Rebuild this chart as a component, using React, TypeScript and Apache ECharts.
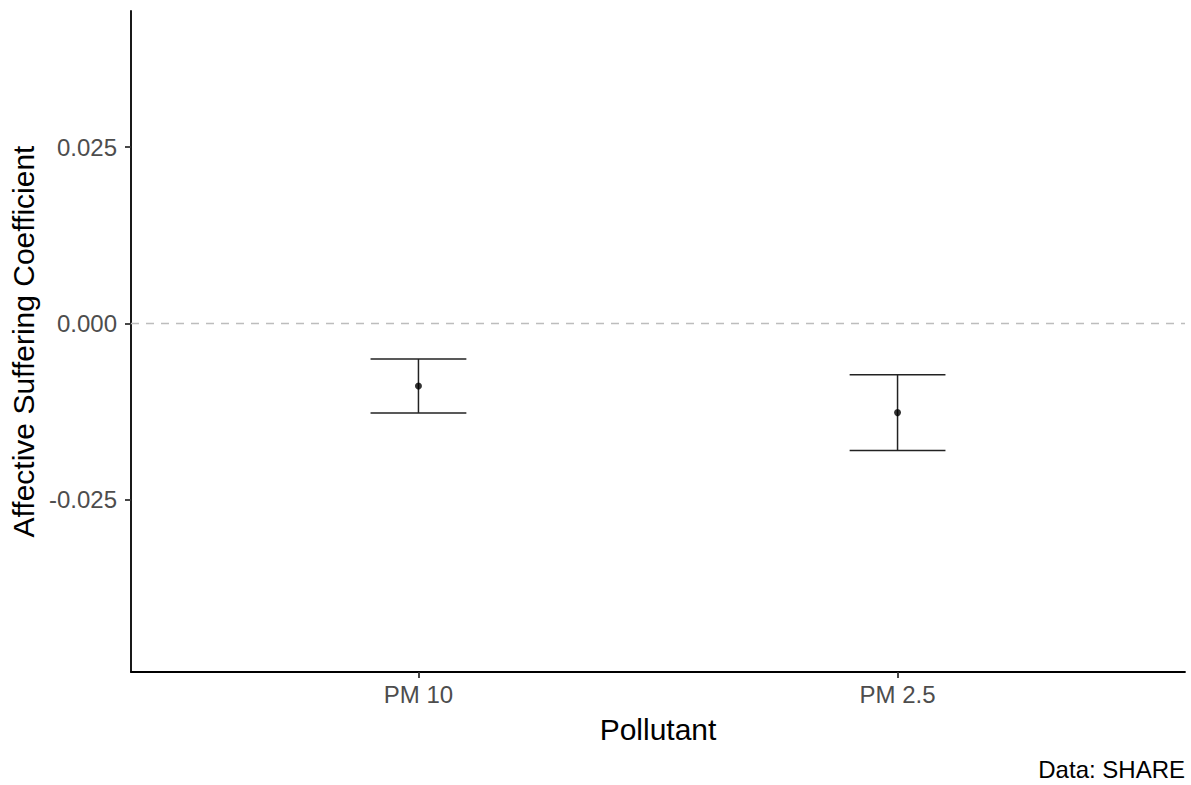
import React, { useEffect, useRef } from "react";
import * as echarts from "echarts";

const categories = ["PM 10", "PM 2.5"];
const categoryPositions = [1, 2];
const estimates = [-0.00885, -0.01263];
const lowerBounds = [-0.01267, -0.01801];
const upperBounds = [-0.00503, -0.00725];
const yTicks = [-0.025, 0, 0.025];

const FONT = "Liberation Sans, Arial, Helvetica, sans-serif";

export default function App() {
  const ref = useRef<HTMLDivElement>(null);
  useEffect(() => {
    if (!ref.current) return;
    const chart = echarts.init(ref.current, undefined, { renderer: "svg" });
    const errData = categoryPositions.map((x, i) => [x, lowerBounds[i], upperBounds[i]]);
    const ptData = categoryPositions.map((x, i) => [x, estimates[i]]);
    const halfWidth = 0.1;
    chart.setOption({
      animation: false,
      backgroundColor: "#ffffff",
      grid: { left: 131, right: 6, top: 11, bottom: 113, containLabel: false, outerBoundsMode: "none" },
      xAxis: {
        type: "value",
        min: 0.4,
        max: 2.6,
        name: "Pollutant",
        nameLocation: "middle",
        nameGap: 42,
        nameTextStyle: { color: "#000", fontSize: 30, fontFamily: FONT },
        axisLine: { show: true, onZero: false, lineStyle: { color: "#000", width: 1.8 } },
        axisTick: { show: true, length: 6, customValues: categoryPositions, lineStyle: { color: "#333", width: 1.8 } },
        axisLabel: {
          customValues: categoryPositions,
          formatter: (v: number) => categories[categoryPositions.indexOf(v)] ?? "",
          color: "#4d4d4d",
          fontSize: 24,
          margin: 10,
          fontFamily: FONT,
        },
        splitLine: { show: false },
      },
      yAxis: {
        type: "value",
        min: -0.0494,
        max: 0.0443,
        name: "Affective Suffering Coefficient",
        nameLocation: "middle",
        nameGap: 92,
        nameTextStyle: { color: "#000", fontSize: 30, fontFamily: FONT },
        axisLine: { show: true, onZero: false, lineStyle: { color: "#000", width: 1.8 } },
        axisTick: { show: true, length: 6, customValues: yTicks, lineStyle: { color: "#333", width: 1.8 } },
        axisLabel: {
          customValues: yTicks,
          formatter: (v: number) => v.toFixed(3),
          color: "#4d4d4d",
          fontSize: 24,
          margin: 14,
          fontFamily: FONT,
        },
        splitLine: { show: false },
      },
      graphic: [
        {
          type: "text",
          right: 6,
          top: 757,
          style: { text: "Data: SHARE", fill: "#000", fontSize: 24, fontFamily: FONT },
        },
      ],
      series: [
        {
          type: "line",
          data: [],
          silent: true,
          markLine: {
            silent: true,
            symbol: "none",
            label: { show: false },
            lineStyle: { color: "#bdbdbd", type: [8, 7], width: 1.3 },
            data: [{ yAxis: 0 }],
          },
        },
        {
          type: "custom",
          data: errData,
          renderItem: (params: any, api: any) => {
            const x = api.value(0);
            const lo = api.value(1);
            const hi = api.value(2);
            const pLo = api.coord([x, lo]);
            const pHi = api.coord([x, hi]);
            const pLeft = api.coord([x - halfWidth, lo]);
            const pRight = api.coord([x + halfWidth, lo]);
            const style = { stroke: "#222", lineWidth: 1.5 };
            return {
              type: "group",
              children: [
                { type: "line", shape: { x1: pLo[0], y1: pLo[1], x2: pHi[0], y2: pHi[1] }, style },
                { type: "line", shape: { x1: pLeft[0], y1: pLo[1], x2: pRight[0], y2: pLo[1] }, style },
                { type: "line", shape: { x1: pLeft[0], y1: pHi[1], x2: pRight[0], y2: pHi[1] }, style },
              ],
            };
          },
          z: 2,
        },
        {
          type: "scatter",
          data: ptData,
          symbol: "circle",
          symbolSize: 7,
          itemStyle: { color: "#000" },
          z: 3,
        },
      ],
    });
    return () => chart.dispose();
  }, []);
  return <div ref={ref} style={{ width: 1191, height: 785, position: "absolute", left: 0, top: 0 }} />;
}
